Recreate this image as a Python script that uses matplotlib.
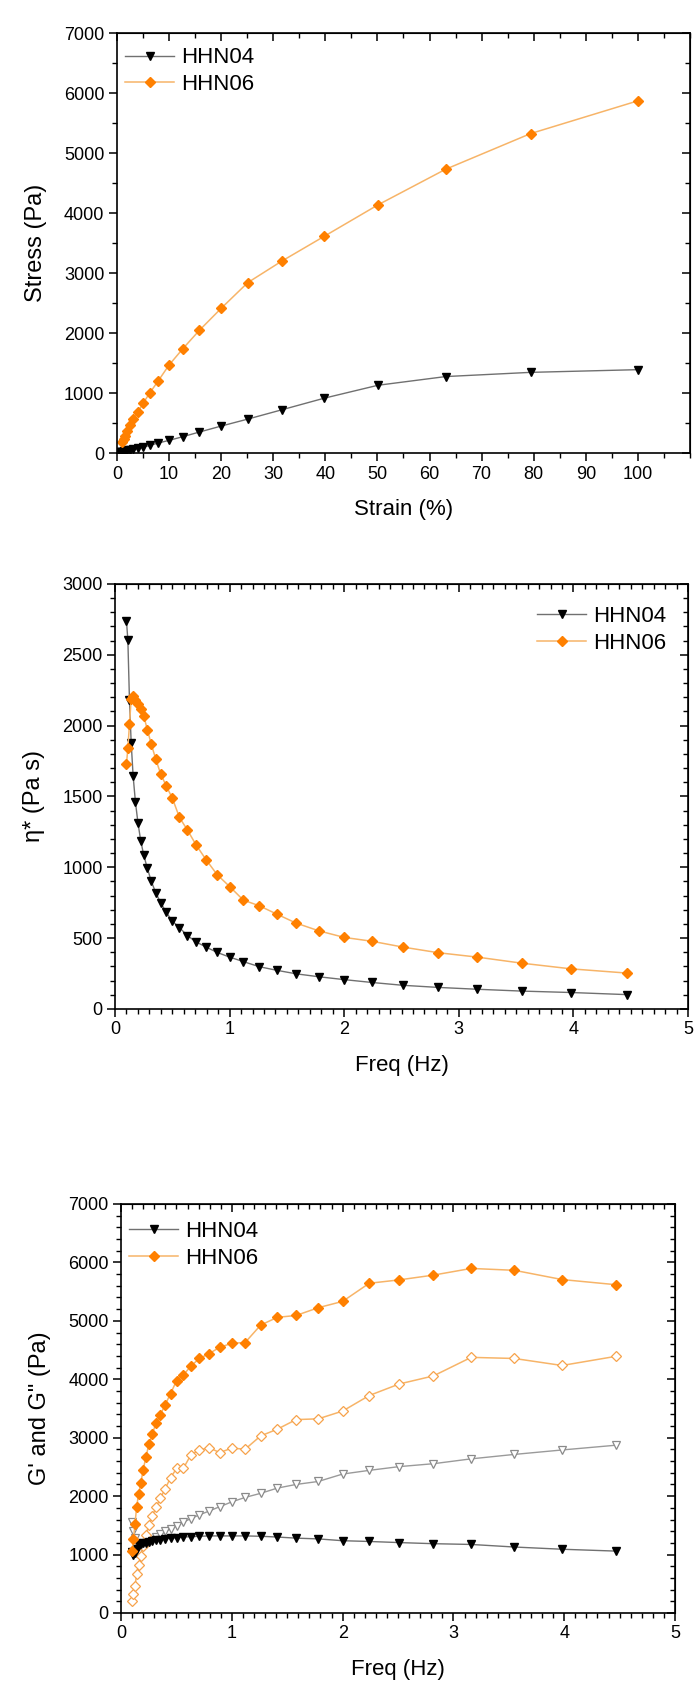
import matplotlib.pyplot as plt
from matplotlib.ticker import MultipleLocator, FixedLocator

plt.rcParams['font.family'] = ['Liberation Sans', 'DejaVu Sans']

# ---------- data ----------
strain = [100, 79.4, 63.1, 50.1, 39.8, 31.6, 25.1, 20.0, 15.8, 12.6, 10.0,
          7.94, 6.31, 5.01, 3.98, 3.16, 2.51, 2.0, 1.58, 1.26, 1.0,
          0.794, 0.631, 0.501]
stress_04 = [1390, 1345, 1275, 1130, 915, 720, 566, 450, 350, 272, 212,
             168, 128, 98, 80, 66, 54, 44, 36, 29, 24,
             19, 15, 12]
stress_06 = [5870, 5324, 4730, 4136, 3613, 3197, 2840, 2412, 2044, 1735, 1468,
             1206, 1004, 830, 680, 560, 460, 370, 290, 230, 180,
             None, None, None]

freq = [0.1, 0.112, 0.126, 0.141, 0.158, 0.178, 0.2, 0.224, 0.251, 0.282,
        0.316, 0.355, 0.398, 0.447, 0.501, 0.562, 0.631, 0.708, 0.794, 0.891,
        1.0, 1.12, 1.26, 1.41, 1.58, 1.78, 2.0, 2.24, 2.51, 2.82,
        3.16, 3.55, 3.98, 4.47]

eta_04 = [2737, 2603, 2178, 1878, 1643, 1461, 1314, 1188, 1084, 993,
          902, 821, 750, 682, 619, 574, 518, 473, 437, 399,
          366, 334, 298, 273, 248, 227, 207, 187, 167, 152,
          139, 126, 116, 101]
eta_06 = [1731, 1840, 2009, 2190, 2210, 2180, 2150, 2120, 2067, 1971,
          1870, 1764, 1660, 1574, 1486, 1352, 1264, 1157, 1054, 948,
          864, 768, 728, 670, 606, 551, 505, 478, 437, 397,
          366, 323, 283, 253]

g1_04 = [1050, 990, 1030, 1100, 1170, 1180, 1190, 1205, 1217, 1230,
         1243, 1255, 1268, 1281, 1287, 1300, 1306, 1313, 1319, 1319,
         1319, 1319, 1313, 1300, 1281, 1268, 1237, 1224, 1205, 1186,
         1173, 1129, 1091, 1059]
g2_04 = [1550, 1400, 1290, 1200, 1150, 1140, 1155, 1186, 1217, 1255,
         1300, 1344, 1395, 1439, 1490, 1554, 1617, 1680, 1744, 1820,
         1902, 1978, 2048, 2137, 2200, 2251, 2378, 2441, 2505, 2555,
         2638, 2714, 2790, 2872]
g1_06 = [1065, 1268, 1522, 1820, 2029, 2219, 2454, 2663, 2885, 3063,
         3253, 3392, 3564, 3754, 3976, 4071, 4229, 4356, 4439, 4547,
         4616, 4629, 4927, 5060, 5092, 5225, 5333, 5643, 5701, 5783,
         5897, 5865, 5707, 5618]
g2_06 = [203, 317, 457, 666, 824, 970, 1141, 1332, 1503, 1661,
         1807, 1966, 2124, 2315, 2473, 2473, 2708, 2790, 2828, 2746,
         2822, 2803, 3031, 3145, 3310, 3323, 3456, 3722, 3919, 4058,
         4375, 4356, 4236, 4394]

# ---------- styles ----------
blk_line = '#707070'
org_line = '#f7b468'
org_mk = '#ff8000'

fig = plt.figure(figsize=(6.98, 17.02), dpi=100)
ax1 = fig.add_axes([0.1676, 0.7338, 0.8209, 0.2468])
ax2 = fig.add_axes([0.1648, 0.4072, 0.8209, 0.2497])
ax3 = fig.add_axes([0.1734, 0.0523, 0.7937, 0.2403])


def style(ax, xmaj, xmin, ymaj, ymin, xlim, ylim, xticks=None):
    ax.set_xlim(*xlim)
    ax.set_ylim(*ylim)
    if xticks is not None:
        ax.xaxis.set_major_locator(FixedLocator(xticks))
    else:
        ax.xaxis.set_major_locator(MultipleLocator(xmaj))
    ax.xaxis.set_minor_locator(MultipleLocator(xmin))
    ax.yaxis.set_major_locator(MultipleLocator(ymaj))
    ax.yaxis.set_minor_locator(MultipleLocator(ymin))
    ax.tick_params(which='major', direction='out', length=6, width=1.1,
                   labelsize=13, pad=3)
    ax.tick_params(which='minor', direction='out', length=3.5, width=1.0)
    for s in ax.spines.values():
        s.set_linewidth(1.2)
    # mirror ticks on top/right, pointing inward
    top = ax.secondary_xaxis('top')
    right = ax.secondary_yaxis('right')
    top.xaxis.set_major_locator(ax.xaxis.get_major_locator())
    top.xaxis.set_minor_locator(MultipleLocator(xmin))
    right.yaxis.set_major_locator(MultipleLocator(ymaj))
    right.yaxis.set_minor_locator(MultipleLocator(ymin))
    for sec in (top, right):
        sec.tick_params(which='major', direction='in', length=6, width=1.1,
                        labelleft=False, labelright=False,
                        labeltop=False, labelbottom=False)
        sec.tick_params(which='minor', direction='in', length=3.5, width=1.0)


# ---------- panel 1 ----------
s06 = [(x, y) for x, y in zip(strain, stress_06) if y is not None]
ax1.plot(strain, stress_04, color=blk_line, lw=1.0, marker='v', ms=6,
         mfc='black', mec='black', label='HHN04')
ax1.plot([p[0] for p in s06], [p[1] for p in s06], color=org_line, lw=1.1,
         marker='D', ms=5, mfc=org_mk, mec=org_mk, label='HHN06')
style(ax1, 10, 5, 1000, 500, (0, 110), (0, 7000),
      xticks=[0, 10, 20, 30, 40, 50, 60, 70, 80, 90, 100])
ax1.set_xlabel('Strain (%)', fontsize=16, labelpad=12)
ax1.set_ylabel('Stress (Pa)', fontsize=17, labelpad=12)
ax1.legend(loc='upper left', bbox_to_anchor=(-0.005, 0.992), frameon=False,
           fontsize=16, handlelength=2.2, handletextpad=0.3,
           borderaxespad=0.1, labelspacing=0.25)

# ---------- panel 2 ----------
ax2.plot(freq, eta_04, color=blk_line, lw=1.0, marker='v', ms=6,
         mfc='black', mec='black', label='HHN04')
ax2.plot(freq, eta_06, color=org_line, lw=1.1, marker='D', ms=5,
         mfc=org_mk, mec=org_mk, label='HHN06')
style(ax2, 1, 0.1, 500, 100, (0, 5), (0, 3000))
ax2.set_xlabel('Freq (Hz)', fontsize=16, labelpad=12)
ax2.set_ylabel('η* (Pa s)', fontsize=17, labelpad=12)
ax2.legend(loc='upper right', frameon=False, fontsize=16, handlelength=2.2,
           handletextpad=0.3, borderaxespad=0.6, labelspacing=0.25)

# ---------- panel 3 ----------
ax3.plot(freq, g2_04, color='#9a9a9a', lw=1.0, marker='v', ms=6,
         mfc='white', mec='#8a8a8a', mew=0.9)
ax3.plot(freq, g2_06, color=org_line, lw=1.1, marker='D', ms=5,
         mfc='white', mec='#f7a24a', mew=0.9)
ax3.plot(freq, g1_04, color=blk_line, lw=1.0, marker='v', ms=6,
         mfc='black', mec='black', label='HHN04')
ax3.plot(freq, g1_06, color=org_line, lw=1.1, marker='D', ms=5,
         mfc=org_mk, mec=org_mk, label='HHN06')
style(ax3, 1, 0.1, 1000, 200, (0, 5), (0, 7000))
ax3.set_xlabel('Freq (Hz)', fontsize=16, labelpad=12)
ax3.set_ylabel('G\' and G" (Pa)', fontsize=17, labelpad=12)
ax3.legend(loc='upper left', bbox_to_anchor=(-0.005, 0.985), frameon=False,
           fontsize=16, handlelength=2.2, handletextpad=0.3,
           borderaxespad=0.1, labelspacing=0.25)

fig.savefig('out.png', dpi=100)
